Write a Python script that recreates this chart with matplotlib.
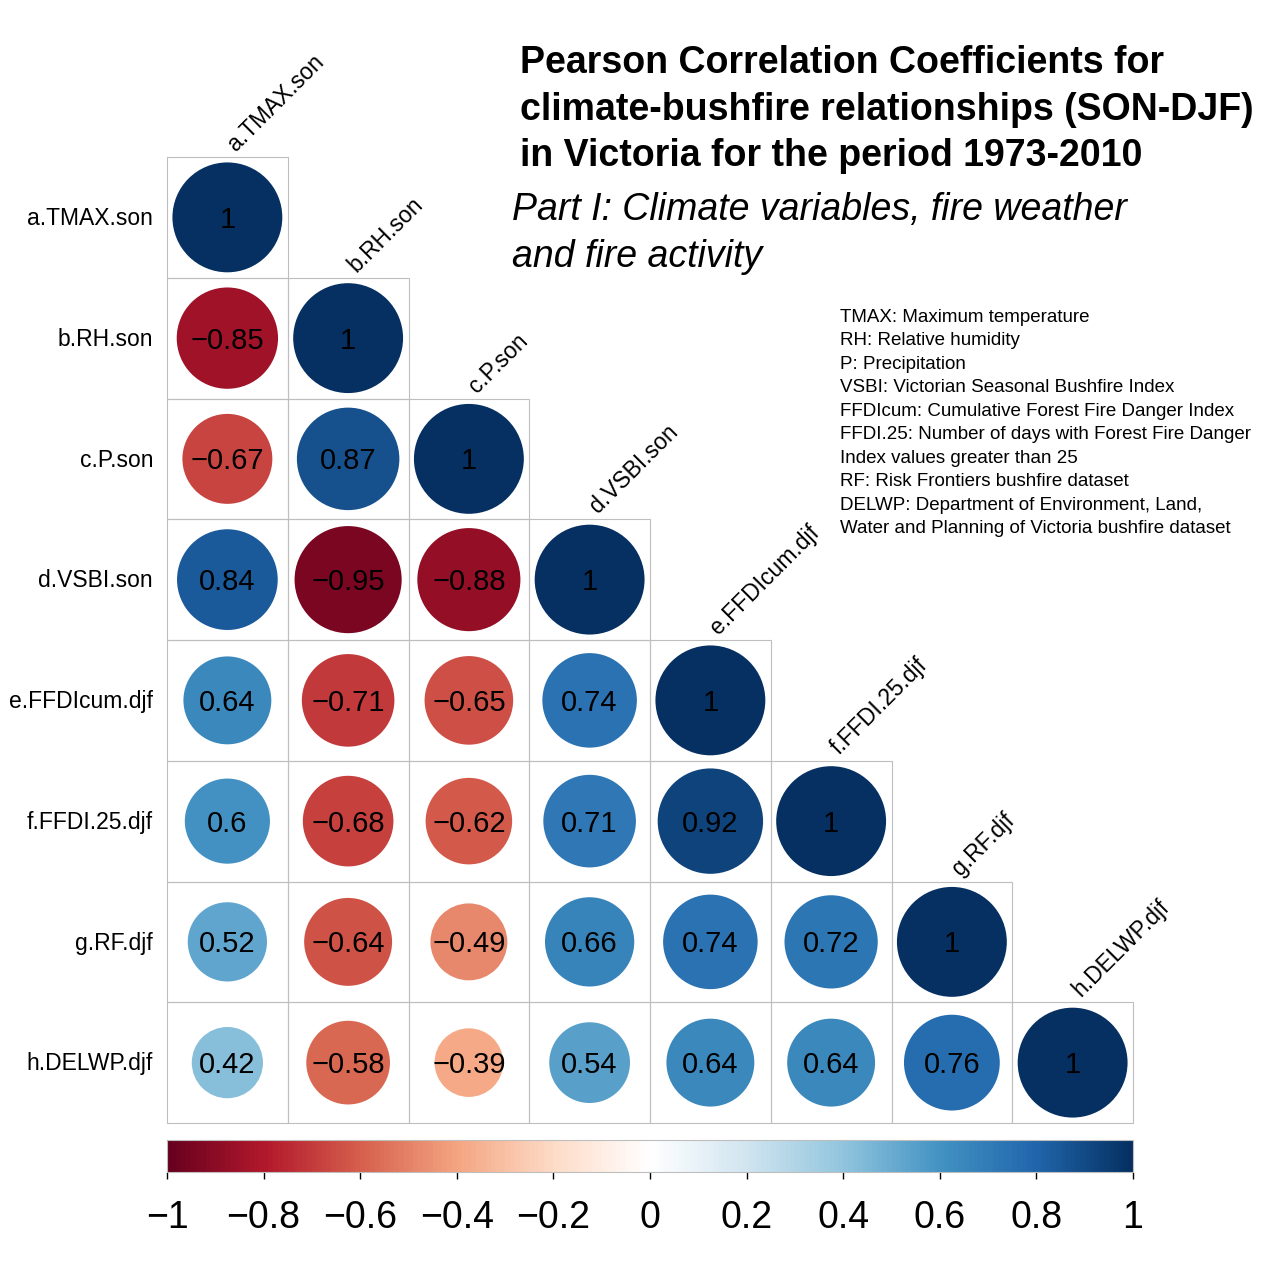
import numpy as np
import matplotlib
matplotlib.use("Agg")
import matplotlib.pyplot as plt
from matplotlib.patches import Circle, Rectangle
from matplotlib.colors import LinearSegmentedColormap, Normalize
from matplotlib.cm import ScalarMappable

plt.rcParams['font.family'] = ['Liberation Sans', 'DejaVu Sans']

# ---- data ----
variables = ["a.TMAX.son", "b.RH.son", "c.P.son", "d.VSBI.son",
             "e.FFDIcum.djf", "f.FFDI.25.djf", "g.RF.djf", "h.DELWP.djf"]
row_a = [1]
row_b = [-0.85, 1]
row_c = [-0.67, 0.87, 1]
row_d = [0.84, -0.95, -0.88, 1]
row_e = [0.64, -0.71, -0.65, 0.74, 1]
row_f = [0.60, -0.68, -0.62, 0.71, 0.92, 1]
row_g = [0.52, -0.64, -0.49, 0.66, 0.74, 0.72, 1]
row_h = [0.42, -0.58, -0.39, 0.54, 0.64, 0.64, 0.76, 1]
rows = [row_a, row_b, row_c, row_d, row_e, row_f, row_g, row_h]

colorbar_ticks = [-1, -0.8, -0.6, -0.4, -0.2, 0, 0.2, 0.4, 0.6, 0.8, 1]

title_lines = ["Pearson Correlation Coefficients for",
               "climate-bushfire relationships (SON-DJF)",
               "in Victoria for the period 1973-2010"]
subtitle_lines = ["Part I: Climate variables, fire weather",
                  "and fire activity"]
legend_lines = ["TMAX: Maximum temperature",
                "RH: Relative humidity",
                "P: Precipitation",
                "VSBI: Victorian Seasonal Bushfire Index",
                "FFDIcum: Cumulative Forest Fire Danger Index",
                "FFDI.25: Number of days with Forest Fire Danger",
                "Index values greater than 25",
                "RF: Risk Frontiers bushfire dataset",
                "DELWP: Department of Environment, Land,",
                "Water and Planning of Victoria bushfire dataset"]

# ---- styling ----
cmap = LinearSegmentedColormap.from_list(
    "RdBu_corr",
    ["#67001F", "#B2182B", "#D6604D", "#F4A582", "#FDDBC7", "#FFFFFF",
     "#D1E5F0", "#92C5DE", "#4393C3", "#2166AC", "#053061"], N=200)
norm = Normalize(-1, 1)

W = H = 1268.0
def fx(x):
    return x / W
def fy(y):
    return 1 - y / H

def fmt(v):
    s = f"{v:.2f}".rstrip('0').rstrip('.')
    return s.replace('-', '\u2212')

fig = plt.figure(figsize=(12.68, 12.68), dpi=100)
gx0, gx1, gy0, gy1 = 167, 1133, 157, 1123
ax = fig.add_axes([fx(gx0), fy(gy1), (gx1 - gx0) / W, (gy1 - gy0) / H])
n = len(variables)
ax.set_xlim(0, n)
ax.set_ylim(n, 0)
ax.axis('off')

for i, row in enumerate(rows):
    for j, v in enumerate(row):
        ax.add_patch(Rectangle((j, i), 1, 1, fill=False, ec="#BEBEBE", lw=0.8,
                               zorder=1, clip_on=False))
for i, row in enumerate(rows):
    for j, v in enumerate(row):
        r = 0.455 * np.sqrt(abs(v))
        ax.add_patch(Circle((j + 0.5, i + 0.5), r, fc=cmap(norm(v)), ec='none', zorder=2))
        ax.text(j + 0.5, i + 0.5 + 0.086, fmt(v), ha='center', va='baseline',
                fontsize=21, color='black', zorder=3)

for i, name in enumerate(variables):
    ax.text(-0.115, i + 0.5 + 0.065, name, ha='right', va='baseline', fontsize=16.5)
    ax.text(i + 0.57, i - 0.04, name, rotation=45, rotation_mode='anchor',
            ha='left', va='baseline', fontsize=16.5)

# colorbar
cax = fig.add_axes([fx(gx0), fy(1172), (gx1 - gx0) / W, 32 / H])
cb = fig.colorbar(ScalarMappable(norm=norm, cmap=cmap), cax=cax, orientation='horizontal')
cb.set_ticks(colorbar_ticks)
cb.set_ticklabels([fmt(t) for t in colorbar_ticks])
cb.outline.set_edgecolor("#BEBEBE")
cb.outline.set_linewidth(0.8)
cax.tick_params(axis='x', length=5, width=1, labelsize=27, pad=15, color='black')

# titles
for k, line in enumerate(title_lines):
    fig.text(fx(520), fy(73 + 46.5 * k), line, fontsize=27, fontweight='bold',
             ha='left', va='baseline')
for k, line in enumerate(subtitle_lines):
    fig.text(fx(512), fy(220 + 47 * k), line, fontsize=27, fontstyle='italic',
             ha='left', va='baseline')
for k, line in enumerate(legend_lines):
    fig.text(fx(840), fy(321.5 + 23.5 * k), line, fontsize=13.5,
             ha='left', va='baseline')

fig.savefig("out.png", dpi=100, facecolor='white')
